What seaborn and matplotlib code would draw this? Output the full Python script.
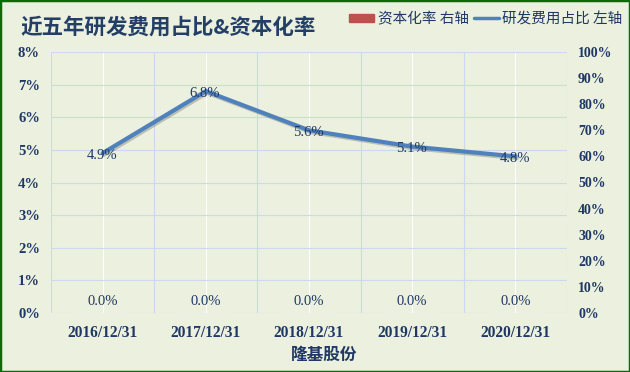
import numpy as np
import pandas as pd
import matplotlib
matplotlib.use("Agg")
import matplotlib.pyplot as plt
import matplotlib.patheffects as pe
from matplotlib.patches import Patch, Rectangle
from matplotlib.lines import Line2D
from matplotlib.ticker import FuncFormatter, MultipleLocator
import seaborn as sns

# dados
datas = ["2016/12/31", "2017/12/31", "2018/12/31", "2019/12/31", "2020/12/31"]
rd_ratio = [4.9, 6.8, 5.6, 5.1, 4.8]      # 研发费用占比 (%), eixo esquerdo
cap_rate = [0.0, 0.0, 0.0, 0.0, 0.0]      # 资本化率 (%), eixo direito

titulo = "近五年研发费用占比&资本化率"
empresa = "隆基股份"

sns.set_style("white")
plt.rcParams['font.family'] = ['Liberation Serif', 'Noto Sans CJK SC']

bg = "#EBF0DF"
txt = "#1F3864"
azul = "#4F81BD"
vermelho = "#C0504D"
grade = "#C9DAF0"

df = pd.DataFrame({"data": datas, "rd": rd_ratio, "cap": cap_rate})
df["pos"] = np.arange(len(df))

fig = plt.figure(figsize=(6.3, 3.72), dpi=100, facecolor=bg)
ax = fig.add_axes([51 / 630, 59 / 372, 516 / 630, 261 / 372])
ax.set_facecolor(bg)
ax2 = ax.twinx()

# barras (eixo direito)
sns.barplot(data=df, x="pos", y="cap", ax=ax2, color=vermelho, width=0.5,
            native_scale=True)
for i, v in zip(df["pos"], df["cap"]):
    ax2.annotate(f"{v:.1f}%", (i, v), xytext=(0, 8.5), textcoords="offset points",
                 ha="center", va="center", fontsize=10.5, color=txt)

# linha (eixo esquerdo)
sns.lineplot(data=df, x="pos", y="rd", ax=ax, color=azul, linewidth=3, zorder=3,
             path_effects=[pe.SimpleLineShadow(offset=(1, -1.2), alpha=0.2),
                           pe.Normal()])
for i, v in zip(df["pos"], df["rd"]):
    ax.annotate(f"{v:.1f}%", (i, v), xytext=(-0.5, -1.5), textcoords="offset points",
                ha="center", va="center", fontsize=10.5, color=txt, zorder=5)

n = len(datas)
ax.set_xlim(-0.5, n - 0.5)
ax.set_ylim(0, 8)
ax2.set_ylim(0, 100)
ax.yaxis.set_major_locator(MultipleLocator(1))
ax2.yaxis.set_major_locator(MultipleLocator(10))
ax.yaxis.set_major_formatter(FuncFormatter(lambda v, p: f"{v:.0f}%"))
ax2.yaxis.set_major_formatter(FuncFormatter(lambda v, p: f"{v:.0f}%"))

ax.set_xticks(range(n))
ax.set_xticklabels(datas)
ax.set_xticks(np.arange(n + 1) - 0.5, minor=True)

# grades
ax.grid(axis="y", which="major", color=grade, linewidth=0.8)
ax.grid(axis="x", which="major", color="white", linewidth=0.8)
ax.grid(axis="x", which="minor", color=grade, linewidth=0.8)
ax.set_axisbelow(True)
ax2.grid(False)

for a in (ax, ax2):
    for s in a.spines.values():
        s.set_visible(False)
    a.tick_params(length=0, which="both")
ax.tick_params(axis="y", pad=8, labelsize=10.5, labelcolor=txt)
ax2.tick_params(axis="y", pad=8, labelsize=10, labelcolor=txt)
ax.tick_params(axis="x", pad=8.5, labelsize=11.2, labelcolor=txt)
for lab in ax.get_yticklabels() + ax2.get_yticklabels() + ax.get_xticklabels():
    lab.set_fontweight("bold")

ax.set_ylabel("")
ax2.set_ylabel("")
ax.set_xlabel(empresa, fontsize=12, fontweight="bold", color=txt,
              family=['Noto Sans CJK SC'])
ax.xaxis.set_label_coords((324.5 - 51) / 516, (313 - 355) / 261)
ax.xaxis.label.set_va("center")

fig.text(20 / 630, 1 - 27 / 372, titulo, fontsize=15.5, fontweight="bold",
         color="#243F66", family=['Noto Sans CJK SC', 'DejaVu Sans'], va="center")

handles = [Patch(facecolor=vermelho, edgecolor=vermelho),
           Line2D([0], [0], color=azul, linewidth=2.5)]
fig.legend(handles, ["资本化率 右轴", "研发费用占比 左轴"], loc="center right",
           bbox_to_anchor=(1.0, 1 - 19 / 372), ncol=2, frameon=False,
           prop={"family": "Noto Sans CJK SC", "size": 10.5}, labelcolor=txt,
           handlelength=1.7, handleheight=0.55, handletextpad=0.25,
           columnspacing=0.35, borderaxespad=0.1)

fig.patches.append(Rectangle((0, 0), 1, 1, transform=fig.transFigure,
                             fill=False, edgecolor="#0B6B0B", linewidth=2.5))

fig.savefig("out.png", dpi=100, facecolor=bg)
